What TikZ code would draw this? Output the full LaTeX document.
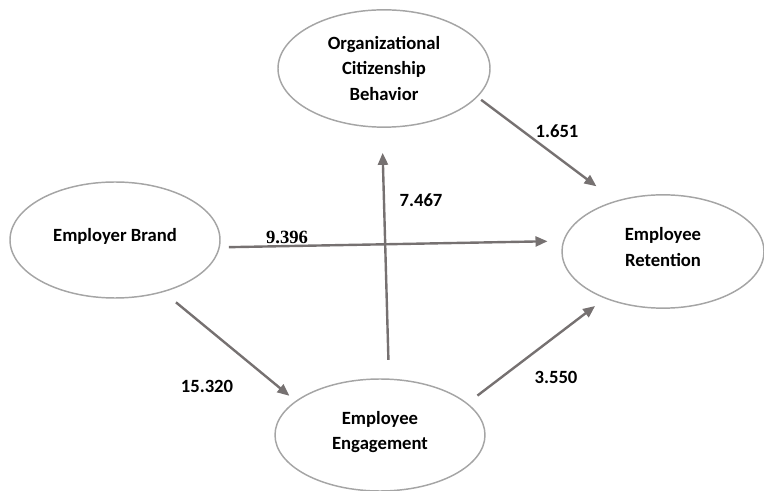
\documentclass[tikz,border=0pt]{standalone}
\usepackage{fontspec}
\setmainfont{Carlito}
\newfontfamily\timesfont{Liberation Serif}
\usetikzlibrary{shapes.geometric,arrows.meta}
\definecolor{ellgray}{HTML}{A5A5A5}
\definecolor{arrgray}{HTML}{767171}

\begin{document}
\begin{tikzpicture}[
x=0.75pt,
y=-0.75pt,
construct/.style={
  ellipse,
  draw=ellgray,
  line width=1.1pt,
  inner sep=0pt,
  align=center,
  font=\bfseries\fontsize{14}{19}\selectfont
  },
coef/.style={
  inner sep=0pt,
  font=\bfseries\fontsize{14}{16}\selectfont
  },
link/.style={
  draw=arrgray,
  line width=1.8pt,
  ->
  },
>={Triangle[length=9pt,width=7.5pt]}
]
\useasboundingbox (0,0) rectangle (764,491);

% constructs
\node[construct, minimum width=157.5pt, minimum height=87pt] (brand) at (115,240) {Employer Brand\\[-12pt]};
\node[construct, minimum width=159pt, minimum height=88pt] (ocb) at (384,68.5) {Organizational\\Citizenship\\Behavior};
\node[construct, minimum width=151.5pt, minimum height=85pt] (retention) at (663,251.5) {Employee\\Retention\\[-12pt]};
\node[construct, minimum width=157.5pt, minimum height=84pt] (engage) at (380,435) {Employee\\Engagement\\[-12pt]};

% path coefficients
\node[coef] (c1) at (287,237) {\timesfont 9.396};
\node[coef] (c2) at (207,386) {15.320};
\node[coef] (c3) at (421,200) {7.467};
\node[coef] (c4) at (557,131) {1.651};
\node[coef] (c5) at (556,377) {3.550};

% paths
\draw[link, shorten <=6.75pt, shorten >=11.6pt] (brand.-4.5) -- (retention.174.4);
\draw[link, shorten <=12pt, shorten >=6pt] (brand.-47.4) -- (engage.158.6);
\draw[link, shorten <=13.9pt, shorten >=18.75pt] (engage.81.2) -- (ocb.-92.6);
\draw[link, shorten <=3.4pt, shorten >=18pt] (ocb.-17.3) -- (retention.133);
\draw[link, shorten <=9.4pt, shorten >=9.2pt] (engage.20.9) -- (retention.-141.6);
\end{tikzpicture}
\end{document}
